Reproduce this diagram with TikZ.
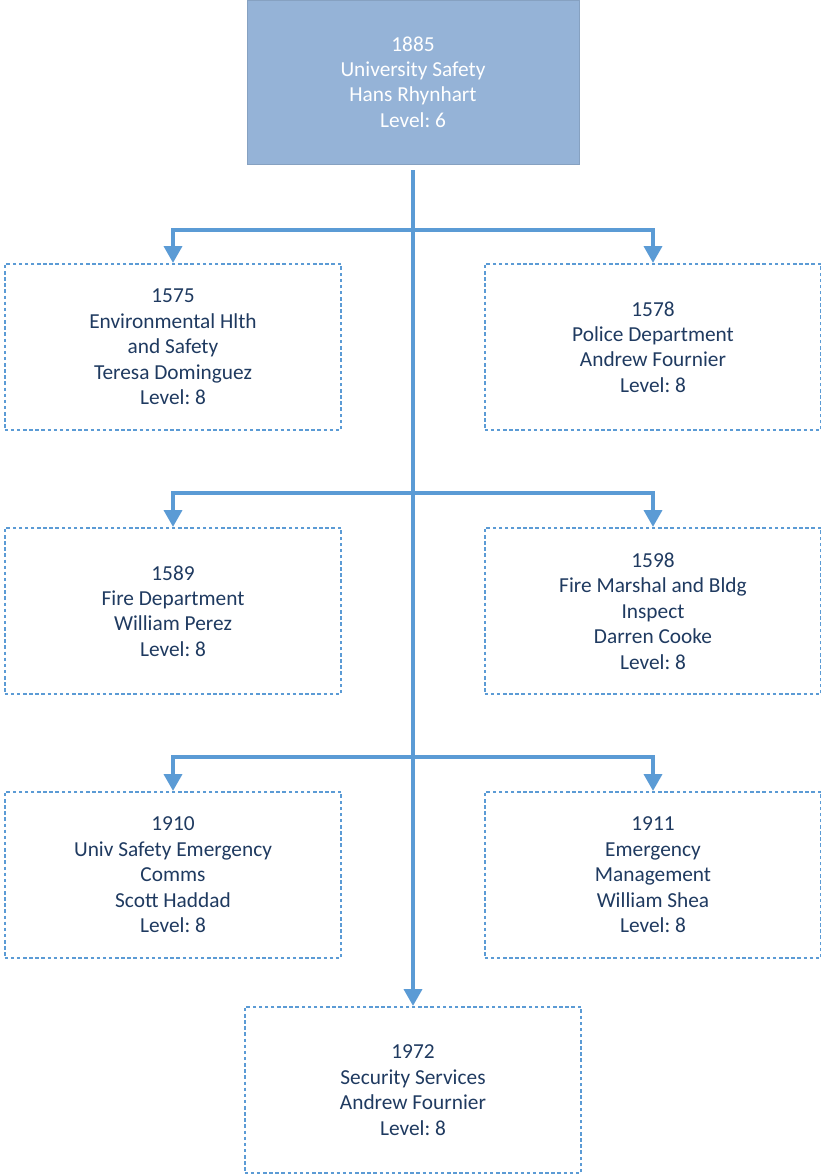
\documentclass[tikz,border=0pt]{standalone}
\usepackage{fontspec}
\setmainfont{Carlito}
\frenchspacing
\usetikzlibrary{arrows.meta}
\definecolor{topfill}{HTML}{95B3D7}
\definecolor{linkc}{HTML}{5B9BD5}
\definecolor{txt}{HTML}{1F3A60}
\tikzset{
  topbox/.style={fill=topfill,draw=topfill!90!black,line width=0.6pt,text=white,align=center,
    minimum width=249pt,minimum height=123pt,inner sep=0pt,font=\fontsize{16}{19.1}\selectfont},
  unitbox/.style={draw=linkc,line width=1.7pt,dash pattern=on 2.6pt off 2pt,text=txt,align=center,
    minimum width=252.5pt,minimum height=124.5pt,inner sep=0pt,font=\fontsize{16}{19.1}\selectfont},
  link/.style={draw=linkc,line width=2.4pt},
  linkarrow/.style={link,-{Triangle[width=13.5pt,length=12.5pt]}}
}
\begin{document}
\begin{tikzpicture}[x=0.75pt,y=-0.75pt]
\useasboundingbox (0,0) rectangle (821,1175);
\node[topbox] (top) at (413,82) {1885\\University Safety\\Hans Rhynhart\\Level: 6};
\node[unitbox] (a1) at (173,347) {1575\\Environmental Hlth\\and Safety\\Teresa Dominguez\\Level: 8};
\node[unitbox] (a2) at (653,347) {1578\\Police Department\\Andrew Fournier\\Level: 8};
\node[unitbox] (b1) at (173,611) {1589\\Fire Department\\William Perez\\Level: 8};
\node[unitbox] (b2) at (653,611) {1598\\Fire Marshal and Bldg\\Inspect\\Darren Cooke\\Level: 8};
\node[unitbox] (c1) at (173,875) {1910\\Univ Safety Emergency\\Comms\\Scott Haddad\\Level: 8};
\node[unitbox] (c2) at (653,875) {1911\\Emergency\\Management\\William Shea\\Level: 8};
\node[unitbox] (d) at (413,1090) {1972\\Security Services\\Andrew Fournier\\Level: 8};
\coordinate (t0) at (413,170);
\coordinate (j1) at (413,230);
\coordinate (j2) at (413,493);
\coordinate (j3) at (413,757);
\draw[linkarrow] (t0) -- (d.north);
\draw[linkarrow] (j1) -| (a1.north);
\draw[linkarrow] (j1) -| (a2.north);
\draw[linkarrow] (j2) -| (b1.north);
\draw[linkarrow] (j2) -| (b2.north);
\draw[linkarrow] (j3) -| (c1.north);
\draw[linkarrow] (j3) -| (c2.north);
\end{tikzpicture}
\end{document}
